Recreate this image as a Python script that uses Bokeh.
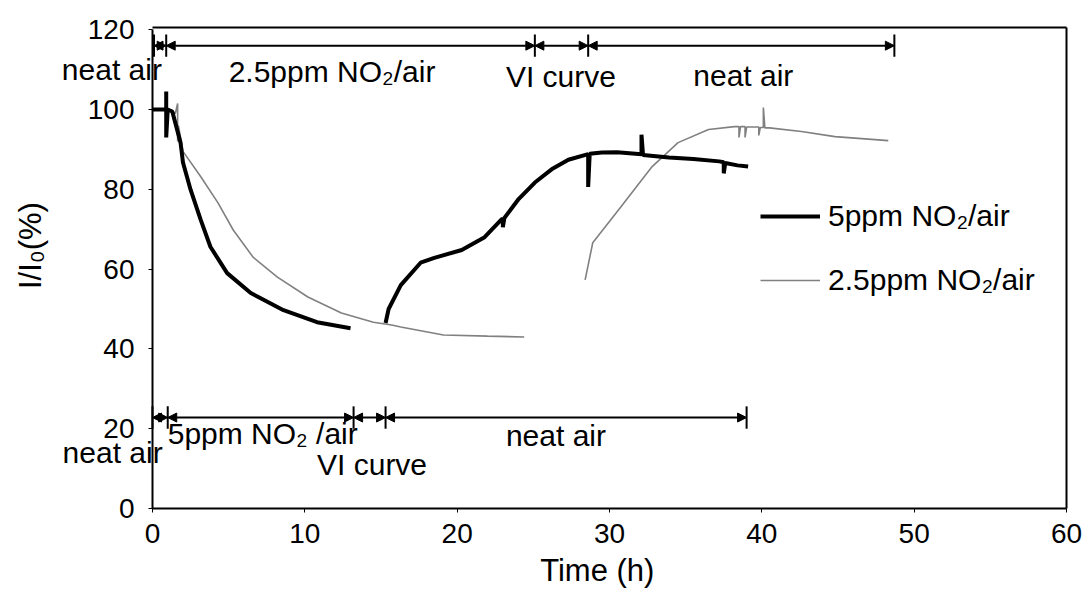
from bokeh.plotting import figure
from bokeh.models import (Label, Arrow, NormalHead, Legend, LegendItem, Range1d, FixedTicker,
                          LinearAxis)
from bokeh.embed import file_html
from bokeh.resources import INLINE

NaN = float("nan")

# ---- data ----
# 5 ppm NO2/air (black, thick); NaN separates exposure and recovery parts
t_5ppm = [0, 0.5, 0.9, 0.9, 0.9, 1.0, 1.3, 1.84, 2.0, 2.5, 3.16, 3.8, 4.9, 6.45, 8.6, 10.8, 13.0,
          NaN,
          15.3, 15.5, 16.3, 17.6, 18.5, 20.3, 21.8, 22.9, 23.0, 23.0, 23.1, 24.0, 25.1, 26.2, 27.3,
          28.6, 28.6, 28.7, 29.5, 30.5, 32.1, 32.1, 32.2, 33.9, 35.5, 37.2, 37.5, 37.5, 37.6, 38.4, 39.1]
i_5ppm = [100, 100, 100, 104.5, 93, 100, 99.5, 91.7, 86.7, 79.9, 72.4, 65.6, 59, 54, 49.7, 46.7, 45.2,
          NaN,
          46.5, 50, 56, 61.6, 62.8, 64.8, 68, 72.4, 72.6, 70.5, 72.8, 77.4, 81.7, 85, 87.4,
          88.8, 80.6, 88.9, 89.2, 89.3, 88.8, 93.7, 88.6, 88, 87.6, 87, 86.8, 84, 86.6, 86, 85.7]

# 2.5 ppm NO2/air (grey, thin)
t_25ppm = [0, 1.0, 1.5, 1.65, 1.65, 1.7, 2.0, 3.16, 4.3, 5.3, 6.6, 8.2, 10.2, 12.4, 14.5, 15.7,
           16.3, 19.1, 22.0, 24.4,
           NaN,
           28.4, 28.9, 30.6, 32.8, 34.5, 36.5, 38.2, 38.5, 38.5, 38.6, 38.9, 38.9, 39.0, 39.8, 39.8,
           39.9, 40.1, 40.1, 40.2, 40.5, 42.6, 44.8, 48.3]
i_25ppm = [100, 100, 99, 101.5, 92, 96, 89.5, 83.2, 76.6, 69.8, 63, 58, 53, 49, 46.7, 46,
           45.5, 43.5, 43.2, 43,
           NaN,
           57.3, 66.6, 74.9, 85.7, 91.7, 95, 95.7, 95.7, 93, 95.7, 95.7, 93, 95.6, 95.6, 93.5,
           95.5, 95.5, 100.5, 95.4, 95.4, 94.5, 93.2, 92.2]

series_labels = ["5ppm NO\u2082/air", "2.5ppm NO\u2082/air"]

x_ticks = [0, 10, 20, 30, 40, 50, 60]
y_ticks = [0, 20, 40, 60, 80, 100, 120]
x_axis_span = (0, 60)
y_axis_span = (0, 120)
box_top = 120.6

# exposure-protocol annotations (top row: 2.5 ppm run, bottom row: 5 ppm run)
top_bounds = [0.1, 0.9, 25.1, 28.6, 48.7]
top_row_y = 116.0
top_texts = ["neat air", "2.5ppm NO\u2082/air", "VI curve", "neat air"]
top_text_x = [-5.95, 5.0, 23.2, 35.5]
top_text_y = [110.0, 109.5, 108.3, 108.5]

bot_bounds = [0.0, 1.0, 13.2, 15.3, 39.0]
bot_row_y = 22.8
bot_texts = ["neat air", "5ppm NO\u2082 /air", "VI curve", "neat air"]
bot_text_x = [-5.9, 1.0, 10.8, 23.2]
bot_text_y = [14.0, 18.8, 11.0, 18.3]

x_title = "Time (h)"
y_title = "I/I\u2080(%)"

FONT = "Liberation Sans"

# The frame covers the whole canvas so that texts left of / below the axes are not clipped;
# the axes are pinned at x=0 / y=0 with fixed_location.
p = figure(width=1082, height=592, x_range=Range1d(-9.978, 61.05), y_range=Range1d(-21.05, 127.32),
           output_backend="svg", toolbar_location=None,
           min_border_left=0, min_border_right=0, min_border_top=0, min_border_bottom=0)
p.background_fill_color = "white"
p.border_fill_color = "white"
p.grid.visible = False
p.outline_line_color = None

p.xaxis.ticker = FixedTicker(ticks=x_ticks)
p.yaxis.ticker = FixedTicker(ticks=y_ticks)
p.xaxis.fixed_location = 0
p.yaxis.fixed_location = 0
p.xaxis.bounds = x_axis_span
p.yaxis.bounds = y_axis_span
for ax in (p.xaxis, p.yaxis):
    ax.axis_line_color = "black"
    ax.axis_line_width = 2
    ax.major_tick_line_color = "black"
    ax.major_tick_out = 4
    ax.major_tick_in = 0
    ax.minor_tick_line_color = None
    ax.major_label_text_font = FONT
    ax.major_label_text_font_size = "28px"
    ax.major_label_text_color = "black"
p.xaxis.major_label_standoff = 11
p.yaxis.major_label_standoff = 14

# top and right lines of the plot box
top_axis = LinearAxis(fixed_location=box_top, bounds=x_axis_span, ticker=FixedTicker(ticks=[]),
                      axis_line_width=2, major_label_text_font_size="0px",
                      major_tick_line_color=None, minor_tick_line_color=None)
right_axis = LinearAxis(fixed_location=x_axis_span[1], bounds=(y_axis_span[0], box_top),
                        ticker=FixedTicker(ticks=[]), axis_line_width=2,
                        major_label_text_font_size="0px",
                        major_tick_line_color=None, minor_tick_line_color=None)
p.add_layout(top_axis, "above")
p.add_layout(right_axis, "right")

r25 = p.line(t_25ppm, i_25ppm, line_color="#808080", line_width=1.6)
r5 = p.line(t_5ppm, i_5ppm, line_color="black", line_width=4)

legend = Legend(items=[LegendItem(label=series_labels[0], renderers=[r5]),
                       LegendItem(label=series_labels[1], renderers=[r25])],
                location=(760, 295), border_line_color=None, background_fill_alpha=0,
                label_text_font=FONT, label_text_font_size="30px", label_text_color="black",
                glyph_width=60, glyph_height=30, label_height=30, spacing=30,
                padding=0, margin=0, label_standoff=8)
p.add_layout(legend)


def add_row(bounds, yrow, texts, tx, ty):
    for a, b in zip(bounds[:-1], bounds[1:]):
        p.add_layout(Arrow(x_start=a, y_start=yrow, x_end=b, y_end=yrow,
                           line_color="black", line_width=2,
                           start=NormalHead(size=9, fill_color="black", line_color="black"),
                           end=NormalHead(size=9, fill_color="black", line_color="black")))
    p.segment(x0=bounds, y0=[yrow - 2.8] * len(bounds), x1=bounds, y1=[yrow + 2.8] * len(bounds),
              line_color="black", line_width=2)
    for s, x, y in zip(texts, tx, ty):
        p.add_layout(Label(x=x, y=y, text=s, text_align="left", text_baseline="alphabetic",
                           text_font=FONT, text_font_size="30px", text_color="black"))


add_row(top_bounds, top_row_y, top_texts, top_text_x, top_text_y)
add_row(bot_bounds, bot_row_y, bot_texts, bot_text_x, bot_text_y)

p.add_layout(Label(x=29.2, y=-15.6, text=x_title, text_align="center", text_baseline="alphabetic",
                   text_font=FONT, text_font_size="31px", text_color="black"))
p.add_layout(Label(x=-8.0, y=65.9, text=y_title, text_align="center", text_baseline="middle",
                   angle=90, angle_units="deg",
                   text_font=FONT, text_font_size="31px", text_color="black"))

open("out.html", "w").write(file_html(p, INLINE))
